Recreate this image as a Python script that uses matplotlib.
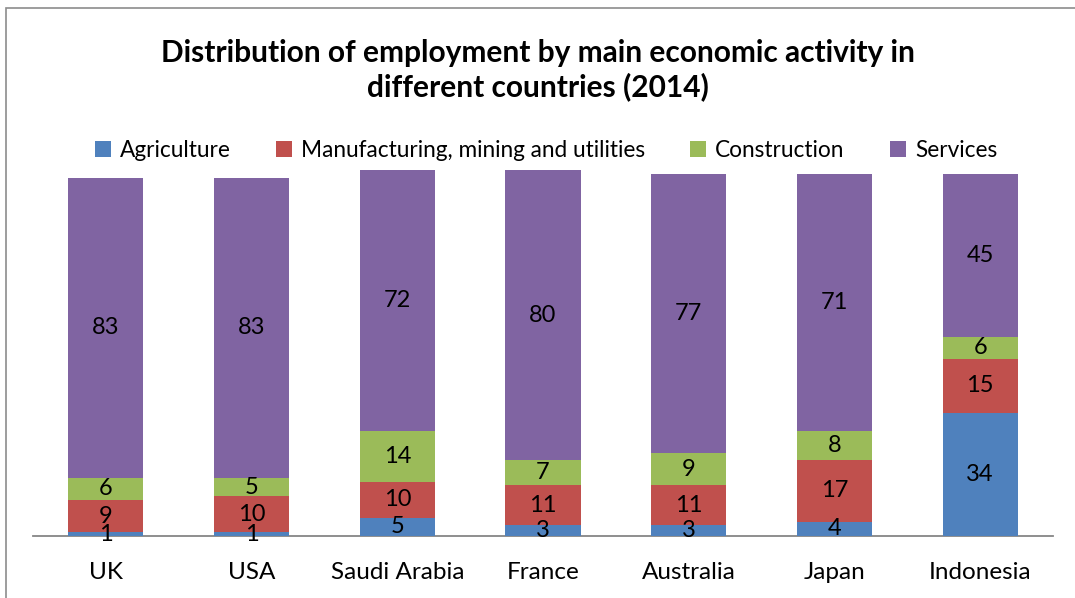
import numpy as np
import matplotlib.pyplot as plt
from matplotlib.patches import Rectangle

countries = ["UK", "USA", "Saudi Arabia", "France", "Australia", "Japan", "Indonesia"]
agriculture = [1, 1, 5, 3, 3, 4, 34]
manufacturing = [9, 10, 10, 11, 11, 17, 15]
construction = [6, 5, 14, 7, 9, 8, 6]
services = [83, 83, 72, 80, 77, 71, 45]

series_names = ["Agriculture", "Manufacturing, mining and utilities", "Construction", "Services"]
colors = ["#4F81BD", "#C0504D", "#9BBB59", "#8064A2"]

plt.rcParams['font.family'] = ['Lato', 'DejaVu Sans']

fig = plt.figure(figsize=(10.75, 5.98), dpi=100)
W, H = 1075, 598

# plot area in pixel terms
left, right, bottom_px, top_px = 33, 1053, 536, 168.6
ax = fig.add_axes([left / W, 1 - bottom_px / H, (right - left) / W, (bottom_px - top_px) / H])

x = np.arange(len(countries))
bottom = np.zeros(len(countries))
handles = []
for vals, name, c in zip([agriculture, manufacturing, construction, services], series_names, colors):
    vals = np.array(vals)
    bars = ax.bar(x, vals, 0.515, bottom=bottom, color=c, label=name, zorder=2)
    handles.append(bars)
    for xi, b, v in zip(x, bottom, vals):
        ax.text(xi, b + v / 2, str(v), ha='center', va='center', fontsize=17, color='black', zorder=3)
    bottom = bottom + vals

ax.set_xlim(-0.5, len(countries) - 0.5)
ax.set_ylim(0, 101.5)
for s in ['top', 'right', 'left']:
    ax.spines[s].set_visible(False)
ax.spines['bottom'].set_color('#868686')
ax.spines['bottom'].set_linewidth(1.3)
ax.spines['bottom'].set_zorder(1)
ax.set_yticks([])
ax.set_xticks(x)
ax.set_xticklabels(countries, fontsize=17.5)
ax.tick_params(axis='x', length=0, pad=19)

fig.text(0.5, 1 - 70 / H, "Distribution of employment by main economic activity in\ndifferent countries (2014)",
         ha='center', va='center', fontsize=21.5, fontweight='bold', linespacing=1.25)

fig.legend(handles, series_names, loc='center', bbox_to_anchor=(0.508, 1 - 150 / H), ncol=4,
           frameon=False, fontsize=16.3, handlelength=0.7, handleheight=0.7,
           handletextpad=0.4, columnspacing=2.0)

# chart border
fig.patches.append(Rectangle((6 / W, -0.1), 1.2, 1.1 - 8 / H, transform=fig.transFigure,
                             fill=False, edgecolor='#8c8c8c', linewidth=1.2))

fig.savefig("out.png", dpi=100)
